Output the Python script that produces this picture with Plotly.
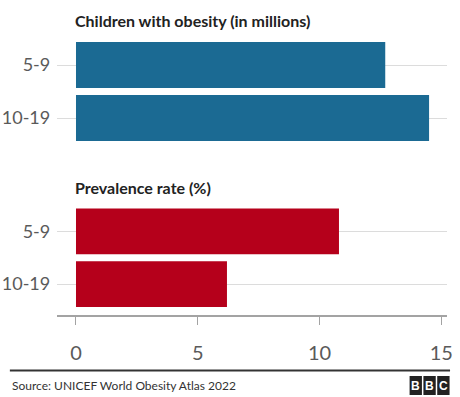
import plotly.graph_objects as go

# Data
age_groups = ["5-9", "10-19"]
obesity_millions = [12.7, 14.5]
prevalence_pct = [10.8, 6.2]
x_ticks = [0, 5, 10, 15]

W, H = 460, 397


def py(y):
    return 1 - y / H


def px(x):
    return x / W


FONT = "Lato, Roboto, sans-serif"
BLUE = "#1b6a93"
RED = "#b5001b"

fig = go.Figure()
fig.add_trace(go.Bar(y=age_groups, x=obesity_millions, orientation="h",
                     marker=dict(color=BLUE, line=dict(width=0)),
                     xaxis="x2", yaxis="y", hoverinfo="x"))
fig.add_trace(go.Bar(y=age_groups, x=prevalence_pct, orientation="h",
                     marker=dict(color=RED, line=dict(width=0)),
                     xaxis="x", yaxis="y2", hoverinfo="x"))

x_dom = [px(58), px(453)]
x_rng = [-0.77, 15.24]

fig.update_layout(
    width=W, height=H,
    margin=dict(l=0, r=0, t=0, b=0),
    paper_bgcolor="white", plot_bgcolor="white",
    showlegend=False,
    bargap=0.13,
    font=dict(family=FONT, color="#555555"),
    xaxis=dict(domain=x_dom, range=x_rng, anchor="free", position=py(316),
               tickvals=x_ticks, ticktext=[str(t) for t in x_ticks],
               showgrid=False, zeroline=False,
               showline=True, linecolor="#a3a3a3", linewidth=2,
               ticks="outside", ticklen=8, tickcolor="#a3a3a3", tickwidth=1,
               ticklabelstandoff=11,
               tickfont=dict(size=20, family=FONT, color="#5a5a5a")),
    xaxis2=dict(domain=x_dom, range=x_rng, anchor="y", visible=False,
                matches="x"),
    yaxis=dict(domain=[py(144.5), py(38.5)], anchor="x2", type="category",
               autorange="reversed", showgrid=True, gridcolor="#dcdcdc",
               gridwidth=1, zeroline=False, showline=False, ticks="",
               ticklabelstandoff=6,
               tickfont=dict(size=18, family=FONT, color="#5a5a5a")),
    yaxis2=dict(domain=[py(310.5), py(205)], anchor="x", type="category",
                autorange="reversed", showgrid=True, gridcolor="#dcdcdc",
                gridwidth=1, zeroline=False, showline=False, ticks="",
                ticklabelstandoff=6,
                tickfont=dict(size=18, family=FONT, color="#5a5a5a")),
)

# Panel titles
for text, yc in [("Children with obesity (in millions)", 20),
                 ("Prevalence rate (%)", 188)]:
    fig.add_annotation(text=f"<b>{text}</b>", xref="paper", yref="paper",
                       x=px(74), y=py(yc), xanchor="left", yanchor="middle",
                       showarrow=False,
                       font=dict(size=16, family=FONT, color="#222222"))

# Footer rule and source
fig.add_shape(type="line", xref="paper", yref="paper",
              x0=px(10), x1=px(456), y0=py(370.5), y1=py(370.5),
              line=dict(color="#333333", width=2))
fig.add_annotation(text="Source: UNICEF World Obesity Atlas 2022",
                   xref="paper", yref="paper", x=px(10), y=py(385),
                   xanchor="left", yanchor="middle", showarrow=False,
                   font=dict(size=12, family=FONT, color="#333333"))

# BBC blocks
for i, letter in enumerate("BBC"):
    x0 = 415 + i * 14
    fig.add_shape(type="rect", xref="paper", yref="paper",
                  x0=px(x0), x1=px(x0 + 12.5), y0=py(395), y1=py(376),
                  fillcolor="#222222", line=dict(width=0))
    fig.add_annotation(text=f"<b>{letter}</b>", xref="paper", yref="paper",
                       x=px(x0 + 6.25), y=py(385.5), xanchor="center",
                       yanchor="middle", showarrow=False,
                       font=dict(size=12, family="Liberation Sans, Arial",
                                 color="white"))

fig.write_html("out.html")
